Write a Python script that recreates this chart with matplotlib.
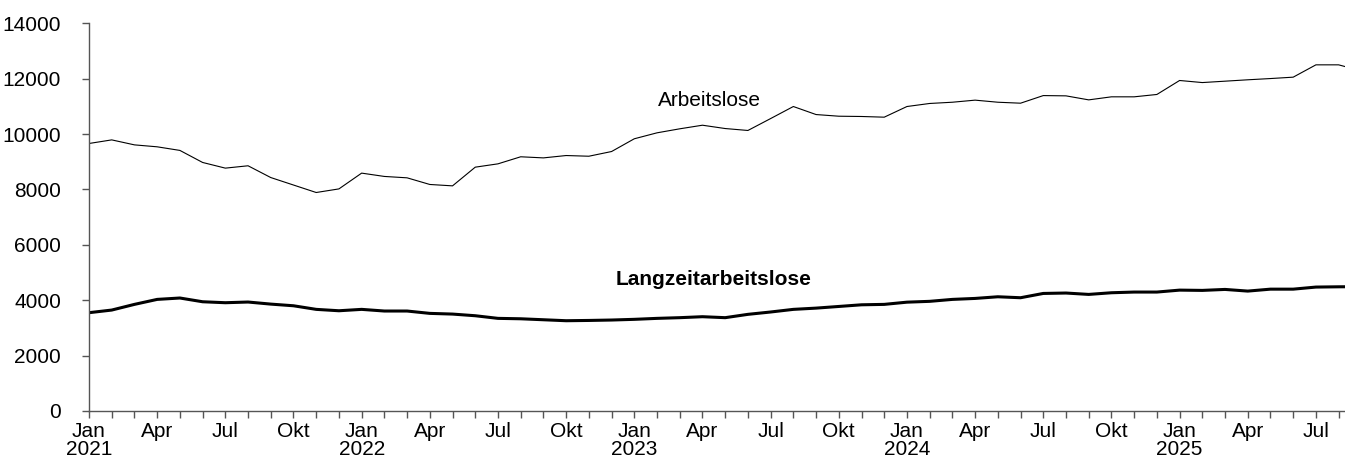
import matplotlib
matplotlib.use("Agg")
import matplotlib.pyplot as plt
import numpy as np

plt.rcParams["font.family"] = ["Liberation Sans", "DejaVu Sans"]

# Monatswerte Jan 2021 - Sep 2025
arbeitslose = [
    9660, 9790, 9610, 9540, 9410, 8975, 8770, 8855, 8430, 8160, 7890, 8020,
    8590, 8470, 8420, 8180, 8130, 8805, 8925, 9180, 9140, 9225, 9200, 9370,
    9830, 10045, 10190, 10320, 10200, 10130, 10560, 10995, 10705, 10645, 10635, 10610,
    10995, 11105, 11150, 11225, 11150, 11115, 11390, 11380, 11235, 11345, 11345, 11430,
    11935, 11860, 11910, 11960, 12005, 12055, 12500, 12500, 12280,
]
langzeitarbeitslose = [
    3550, 3645, 3850, 4030, 4080, 3945, 3910, 3935, 3860, 3800, 3670, 3620,
    3670, 3610, 3610, 3525, 3500, 3440, 3345, 3330, 3295, 3260, 3270, 3285,
    3310, 3345, 3370, 3405, 3370, 3490, 3575, 3670, 3715, 3775, 3835, 3850,
    3930, 3960, 4030, 4065, 4125, 4090, 4245, 4260, 4210, 4270, 4295, 4295,
    4365, 4355, 4390, 4330, 4400, 4400, 4475, 4485, 4490,
]
monate = ["Jan", "Feb", "Mär", "Apr", "Mai", "Jun", "Jul", "Aug", "Sep", "Okt", "Nov", "Dez"]
start_jahr = 2021

x = np.arange(len(arbeitslose))

fig = plt.figure(figsize=(13.45, 4.66), dpi=100)
ax = fig.add_axes([89 / 1345, 1 - 411 / 466, 1 - 89 / 1345, (411 - 23.3) / 466])

ax.plot(x, arbeitslose, color="black", linewidth=0.8)
ax.plot(x, langzeitarbeitslose, color="black", linewidth=2.2)

ax.text(27.3, 11200, "Arbeitslose", ha="center", va="center", fontsize=15)
ax.text(27.5, 4765, "Langzeitarbeitslose", ha="center", va="center", fontsize=15, fontweight="bold")

ax.set_yticks(np.arange(0, 14001, 2000))
ax.set_yticklabels([str(v) for v in range(0, 14001, 2000)])

ax.set_xticks(x, minor=True)
major = [i for i in x if i % 3 == 0]
labels = []
for i in major:
    m = monate[i % 12]
    if i % 12 == 0:
        labels.append(f"{m}\n{start_jahr + i // 12}")
    else:
        labels.append(m)
ax.set_xticks(major)
ax.set_xticklabels(labels, linespacing=0.95)

# Grenzen erst nach den Ticks setzen, sonst dehnt set_xticks die Achse
ax.set_xlim(0, 55.28)
ax.set_ylim(0, 14000)

ax.tick_params(axis="both", labelsize=15, color="#555555", width=1, length=5, direction="out")
ax.tick_params(axis="x", which="minor", color="#555555", width=1, length=5, direction="out")
ax.tick_params(axis="x", pad=3)
ax.tick_params(axis="y", pad=15)

for side in ["top", "right"]:
    ax.spines[side].set_visible(False)
for side in ["left", "bottom"]:
    ax.spines[side].set_color("#555555")
    ax.spines[side].set_linewidth(1)

fig.savefig("out.png", dpi=100)
